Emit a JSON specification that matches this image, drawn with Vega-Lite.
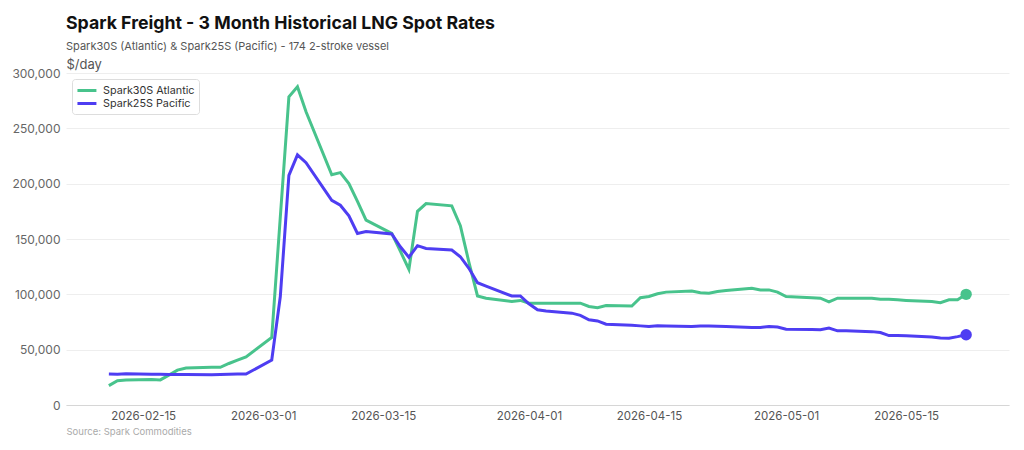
{
  "$schema": "https://vega.github.io/schema/vega-lite/v6.json",
  "width": 943,
  "height": 332,
  "autosize": {"type": "none"},
  "padding": {"left": 66, "top": 73, "right": 15, "bottom": 45},
  "background": "white",
  "config": {"font": "Inter", "view": {"stroke": null}},
  "title": {
    "text": "Spark Freight - 3 Month Historical LNG Spot Rates",
    "subtitle": "Spark30S (Atlantic) & Spark25S (Pacific) - 174 2-stroke vessel",
    "anchor": "start",
    "frame": "group",
    "fontSize": 17.7,
    "fontWeight": "bold",
    "color": "#111111",
    "subtitleFontSize": 11,
    "subtitleColor": "#555555",
    "subtitlePadding": 8,
    "offset": 6
  },
  "datasets": {
    "rates": [
      {"date": "2026-02-11", "series": "Spark30S Atlantic", "value": 17500},
      {"date": "2026-02-12", "series": "Spark30S Atlantic", "value": 22000},
      {"date": "2026-02-13", "series": "Spark30S Atlantic", "value": 22500},
      {"date": "2026-02-16", "series": "Spark30S Atlantic", "value": 23000},
      {"date": "2026-02-17", "series": "Spark30S Atlantic", "value": 22700},
      {"date": "2026-02-18", "series": "Spark30S Atlantic", "value": 27000},
      {"date": "2026-02-19", "series": "Spark30S Atlantic", "value": 31500},
      {"date": "2026-02-20", "series": "Spark30S Atlantic", "value": 33500},
      {"date": "2026-02-23", "series": "Spark30S Atlantic", "value": 34000},
      {"date": "2026-02-24", "series": "Spark30S Atlantic", "value": 34000},
      {"date": "2026-02-25", "series": "Spark30S Atlantic", "value": 37500},
      {"date": "2026-02-26", "series": "Spark30S Atlantic", "value": 40500},
      {"date": "2026-02-27", "series": "Spark30S Atlantic", "value": 43500},
      {"date": "2026-03-02", "series": "Spark30S Atlantic", "value": 61000},
      {"date": "2026-03-03", "series": "Spark30S Atlantic", "value": 170000},
      {"date": "2026-03-04", "series": "Spark30S Atlantic", "value": 278500},
      {"date": "2026-03-05", "series": "Spark30S Atlantic", "value": 287500},
      {"date": "2026-03-06", "series": "Spark30S Atlantic", "value": 265000},
      {"date": "2026-03-09", "series": "Spark30S Atlantic", "value": 208000},
      {"date": "2026-03-10", "series": "Spark30S Atlantic", "value": 210000},
      {"date": "2026-03-11", "series": "Spark30S Atlantic", "value": 200000},
      {"date": "2026-03-12", "series": "Spark30S Atlantic", "value": 184000},
      {"date": "2026-03-13", "series": "Spark30S Atlantic", "value": 167000},
      {"date": "2026-03-16", "series": "Spark30S Atlantic", "value": 155000},
      {"date": "2026-03-17", "series": "Spark30S Atlantic", "value": 139000},
      {"date": "2026-03-18", "series": "Spark30S Atlantic", "value": 122500},
      {"date": "2026-03-19", "series": "Spark30S Atlantic", "value": 175000},
      {"date": "2026-03-20", "series": "Spark30S Atlantic", "value": 182000},
      {"date": "2026-03-23", "series": "Spark30S Atlantic", "value": 180000},
      {"date": "2026-03-24", "series": "Spark30S Atlantic", "value": 162000},
      {"date": "2026-03-25", "series": "Spark30S Atlantic", "value": 129000},
      {"date": "2026-03-26", "series": "Spark30S Atlantic", "value": 98500},
      {"date": "2026-03-27", "series": "Spark30S Atlantic", "value": 96500},
      {"date": "2026-03-30", "series": "Spark30S Atlantic", "value": 93500},
      {"date": "2026-03-31", "series": "Spark30S Atlantic", "value": 94500},
      {"date": "2026-04-01", "series": "Spark30S Atlantic", "value": 92000},
      {"date": "2026-04-02", "series": "Spark30S Atlantic", "value": 92000},
      {"date": "2026-04-03", "series": "Spark30S Atlantic", "value": 92000},
      {"date": "2026-04-06", "series": "Spark30S Atlantic", "value": 92000},
      {"date": "2026-04-07", "series": "Spark30S Atlantic", "value": 92000},
      {"date": "2026-04-08", "series": "Spark30S Atlantic", "value": 89000},
      {"date": "2026-04-09", "series": "Spark30S Atlantic", "value": 88000},
      {"date": "2026-04-10", "series": "Spark30S Atlantic", "value": 89800},
      {"date": "2026-04-13", "series": "Spark30S Atlantic", "value": 89500},
      {"date": "2026-04-14", "series": "Spark30S Atlantic", "value": 97000},
      {"date": "2026-04-15", "series": "Spark30S Atlantic", "value": 98000},
      {"date": "2026-04-16", "series": "Spark30S Atlantic", "value": 100500},
      {"date": "2026-04-17", "series": "Spark30S Atlantic", "value": 102000},
      {"date": "2026-04-20", "series": "Spark30S Atlantic", "value": 103000},
      {"date": "2026-04-21", "series": "Spark30S Atlantic", "value": 101500},
      {"date": "2026-04-22", "series": "Spark30S Atlantic", "value": 101000},
      {"date": "2026-04-23", "series": "Spark30S Atlantic", "value": 102500},
      {"date": "2026-04-24", "series": "Spark30S Atlantic", "value": 103500},
      {"date": "2026-04-27", "series": "Spark30S Atlantic", "value": 105500},
      {"date": "2026-04-28", "series": "Spark30S Atlantic", "value": 104000},
      {"date": "2026-04-29", "series": "Spark30S Atlantic", "value": 104000},
      {"date": "2026-04-30", "series": "Spark30S Atlantic", "value": 102000},
      {"date": "2026-05-01", "series": "Spark30S Atlantic", "value": 98000},
      {"date": "2026-05-04", "series": "Spark30S Atlantic", "value": 97000},
      {"date": "2026-05-05", "series": "Spark30S Atlantic", "value": 96500},
      {"date": "2026-05-06", "series": "Spark30S Atlantic", "value": 93200},
      {"date": "2026-05-07", "series": "Spark30S Atlantic", "value": 96500},
      {"date": "2026-05-08", "series": "Spark30S Atlantic", "value": 96500},
      {"date": "2026-05-11", "series": "Spark30S Atlantic", "value": 96500},
      {"date": "2026-05-12", "series": "Spark30S Atlantic", "value": 95500},
      {"date": "2026-05-13", "series": "Spark30S Atlantic", "value": 95500},
      {"date": "2026-05-14", "series": "Spark30S Atlantic", "value": 95000},
      {"date": "2026-05-15", "series": "Spark30S Atlantic", "value": 94500},
      {"date": "2026-05-18", "series": "Spark30S Atlantic", "value": 93500},
      {"date": "2026-05-19", "series": "Spark30S Atlantic", "value": 92500},
      {"date": "2026-05-20", "series": "Spark30S Atlantic", "value": 95000},
      {"date": "2026-05-21", "series": "Spark30S Atlantic", "value": 95000},
      {"date": "2026-05-22", "series": "Spark30S Atlantic", "value": 100000},
      {"date": "2026-02-11", "series": "Spark25S Pacific", "value": 28000},
      {"date": "2026-02-12", "series": "Spark25S Pacific", "value": 27800},
      {"date": "2026-02-13", "series": "Spark25S Pacific", "value": 28200},
      {"date": "2026-02-16", "series": "Spark25S Pacific", "value": 27800},
      {"date": "2026-02-17", "series": "Spark25S Pacific", "value": 27700},
      {"date": "2026-02-18", "series": "Spark25S Pacific", "value": 27600},
      {"date": "2026-02-19", "series": "Spark25S Pacific", "value": 27500},
      {"date": "2026-02-20", "series": "Spark25S Pacific", "value": 27500},
      {"date": "2026-02-23", "series": "Spark25S Pacific", "value": 27400},
      {"date": "2026-02-24", "series": "Spark25S Pacific", "value": 27500},
      {"date": "2026-02-25", "series": "Spark25S Pacific", "value": 27700},
      {"date": "2026-02-26", "series": "Spark25S Pacific", "value": 27900},
      {"date": "2026-02-27", "series": "Spark25S Pacific", "value": 28000},
      {"date": "2026-03-02", "series": "Spark25S Pacific", "value": 40600},
      {"date": "2026-03-03", "series": "Spark25S Pacific", "value": 98000},
      {"date": "2026-03-04", "series": "Spark25S Pacific", "value": 207500},
      {"date": "2026-03-05", "series": "Spark25S Pacific", "value": 226000},
      {"date": "2026-03-06", "series": "Spark25S Pacific", "value": 219000},
      {"date": "2026-03-09", "series": "Spark25S Pacific", "value": 185000},
      {"date": "2026-03-10", "series": "Spark25S Pacific", "value": 180500},
      {"date": "2026-03-11", "series": "Spark25S Pacific", "value": 171000},
      {"date": "2026-03-12", "series": "Spark25S Pacific", "value": 155000},
      {"date": "2026-03-13", "series": "Spark25S Pacific", "value": 156700},
      {"date": "2026-03-16", "series": "Spark25S Pacific", "value": 154500},
      {"date": "2026-03-17", "series": "Spark25S Pacific", "value": 143000},
      {"date": "2026-03-18", "series": "Spark25S Pacific", "value": 133500},
      {"date": "2026-03-19", "series": "Spark25S Pacific", "value": 144000},
      {"date": "2026-03-20", "series": "Spark25S Pacific", "value": 141500},
      {"date": "2026-03-23", "series": "Spark25S Pacific", "value": 140000},
      {"date": "2026-03-24", "series": "Spark25S Pacific", "value": 134000},
      {"date": "2026-03-25", "series": "Spark25S Pacific", "value": 123500},
      {"date": "2026-03-26", "series": "Spark25S Pacific", "value": 110500},
      {"date": "2026-03-27", "series": "Spark25S Pacific", "value": 107500},
      {"date": "2026-03-30", "series": "Spark25S Pacific", "value": 98500},
      {"date": "2026-03-31", "series": "Spark25S Pacific", "value": 98500},
      {"date": "2026-04-01", "series": "Spark25S Pacific", "value": 91500},
      {"date": "2026-04-02", "series": "Spark25S Pacific", "value": 86000},
      {"date": "2026-04-03", "series": "Spark25S Pacific", "value": 85000},
      {"date": "2026-04-06", "series": "Spark25S Pacific", "value": 83000},
      {"date": "2026-04-07", "series": "Spark25S Pacific", "value": 81000},
      {"date": "2026-04-08", "series": "Spark25S Pacific", "value": 77000},
      {"date": "2026-04-09", "series": "Spark25S Pacific", "value": 76000},
      {"date": "2026-04-10", "series": "Spark25S Pacific", "value": 73000},
      {"date": "2026-04-13", "series": "Spark25S Pacific", "value": 72000},
      {"date": "2026-04-14", "series": "Spark25S Pacific", "value": 71500},
      {"date": "2026-04-15", "series": "Spark25S Pacific", "value": 71000},
      {"date": "2026-04-16", "series": "Spark25S Pacific", "value": 71600},
      {"date": "2026-04-17", "series": "Spark25S Pacific", "value": 71400},
      {"date": "2026-04-20", "series": "Spark25S Pacific", "value": 71000},
      {"date": "2026-04-21", "series": "Spark25S Pacific", "value": 71300},
      {"date": "2026-04-22", "series": "Spark25S Pacific", "value": 71300},
      {"date": "2026-04-23", "series": "Spark25S Pacific", "value": 71200},
      {"date": "2026-04-24", "series": "Spark25S Pacific", "value": 71000},
      {"date": "2026-04-27", "series": "Spark25S Pacific", "value": 70000},
      {"date": "2026-04-28", "series": "Spark25S Pacific", "value": 70000},
      {"date": "2026-04-29", "series": "Spark25S Pacific", "value": 71000},
      {"date": "2026-04-30", "series": "Spark25S Pacific", "value": 70500},
      {"date": "2026-05-01", "series": "Spark25S Pacific", "value": 68500},
      {"date": "2026-05-04", "series": "Spark25S Pacific", "value": 68200},
      {"date": "2026-05-05", "series": "Spark25S Pacific", "value": 68000},
      {"date": "2026-05-06", "series": "Spark25S Pacific", "value": 69600},
      {"date": "2026-05-07", "series": "Spark25S Pacific", "value": 67000},
      {"date": "2026-05-08", "series": "Spark25S Pacific", "value": 67000},
      {"date": "2026-05-11", "series": "Spark25S Pacific", "value": 66300},
      {"date": "2026-05-12", "series": "Spark25S Pacific", "value": 65500},
      {"date": "2026-05-13", "series": "Spark25S Pacific", "value": 62700},
      {"date": "2026-05-14", "series": "Spark25S Pacific", "value": 62700},
      {"date": "2026-05-15", "series": "Spark25S Pacific", "value": 62500},
      {"date": "2026-05-18", "series": "Spark25S Pacific", "value": 61500},
      {"date": "2026-05-19", "series": "Spark25S Pacific", "value": 60500},
      {"date": "2026-05-20", "series": "Spark25S Pacific", "value": 60300},
      {"date": "2026-05-21", "series": "Spark25S Pacific", "value": 61800},
      {"date": "2026-05-22", "series": "Spark25S Pacific", "value": 63500}
    ]
  },
  "data": {"name": "rates"},
  "encoding": {
    "x": {
      "field": "date",
      "type": "temporal",
      "scale": {
        "type": "utc",
        "domain": [
          {"year": 2026, "month": 2, "date": 6, "utc": true},
          {"year": 2026, "month": 5, "date": 27, "utc": true}
        ]
      },
      "axis": {
        "values": [
          {"year": 2026, "month": 2, "date": 15, "utc": true},
          {"year": 2026, "month": 3, "date": 1, "utc": true},
          {"year": 2026, "month": 3, "date": 15, "utc": true},
          {"year": 2026, "month": 4, "date": 1, "utc": true},
          {"year": 2026, "month": 4, "date": 15, "utc": true},
          {"year": 2026, "month": 5, "date": 1, "utc": true},
          {"year": 2026, "month": 5, "date": 15, "utc": true}
        ],
        "format": "%Y-%m-%d",
        "labelFontSize": 11.5,
        "labelColor": "#555555",
        "labelPadding": 5,
        "ticks": false,
        "grid": false,
        "domainColor": "#d6d6d6",
        "domainWidth": 1,
        "title": "Source: Spark Commodities",
        "titleAnchor": "start",
        "titleAlign": "left",
        "titleX": 0,
        "titleY": 21,
        "titleFontSize": 9.5,
        "titleFontWeight": "normal",
        "titleColor": "#aaaaaa"
      }
    },
    "y": {
      "field": "value",
      "type": "quantitative",
      "scale": {"domain": [0, 300000]},
      "axis": {
        "values": [0, 50000, 100000, 150000, 200000, 250000, 300000],
        "format": ",.0f",
        "labelFontSize": 12,
        "labelColor": "#666666",
        "labelPadding": 6,
        "ticks": false,
        "domain": false,
        "gridColor": "#eeeeee",
        "gridWidth": 1,
        "title": "$/day",
        "titleAngle": 0,
        "titleAlign": "left",
        "titleBaseline": "alphabetic",
        "titleX": 0,
        "titleY": -5,
        "titleFontSize": 13,
        "titleFontWeight": "normal",
        "titleColor": "#555555"
      }
    },
    "color": {
      "field": "series",
      "type": "nominal",
      "scale": {
        "domain": ["Spark30S Atlantic", "Spark25S Pacific"],
        "range": ["#48c38c", "#4e3df2"]
      }
    }
  },
  "layer": [
    {
      "mark": {"type": "line", "strokeWidth": 3},
      "encoding": {
        "color": {
          "field": "series",
          "type": "nominal",
          "scale": {
            "domain": ["Spark30S Atlantic", "Spark25S Pacific"],
            "range": ["#48c38c", "#4e3df2"]
          },
          "legend": {
            "title": null,
            "orient": "top-left",
            "offset": 6,
            "padding": 4.5,
            "symbolType": "M-1.1,0H2.35",
            "symbolStrokeWidth": 3,
            "symbolSize": 121,
            "labelFontSize": 10.8,
            "labelColor": "#333333",
            "labelOffset": 12.5,
            "rowPadding": 0,
            "strokeColor": "#dddddd",
            "fillColor": "#ffffff",
            "cornerRadius": 3
          }
        }
      }
    },
    {
      "transform": [{"filter": "utcmonth(datum.date) == 4 && utcdate(datum.date) == 22"}],
      "mark": {"type": "point", "filled": true, "size": 130, "opacity": 1},
      "encoding": {
        "color": {
          "field": "series",
          "type": "nominal",
          "scale": {
            "domain": ["Spark30S Atlantic", "Spark25S Pacific"],
            "range": ["#48c38c", "#4e3df2"]
          },
          "legend": null
        }
      }
    }
  ],
  "resolve": {"legend": {"color": "independent"}}
}
